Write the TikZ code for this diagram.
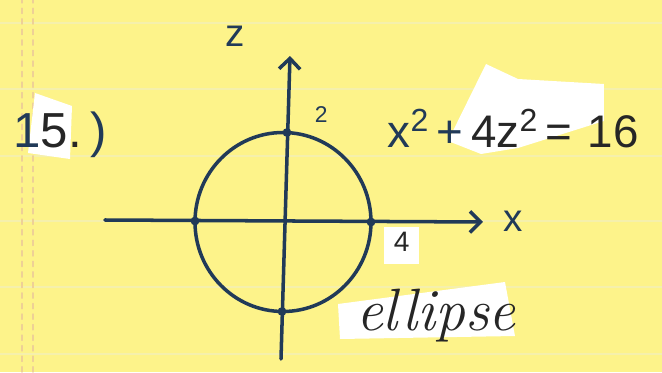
\documentclass[tikz,border=0pt]{standalone}
\usepackage{fontspec}
\newfontfamily\handfont{Liberation Sans}
\usepackage{tikz}
\usetikzlibrary{positioning, arrows.meta}
\definecolor{paper}{RGB}{253, 243, 138}
\definecolor{ruleline}{RGB}{245, 240, 172}
\definecolor{marginline}{RGB}{238, 208, 150}
\definecolor{ink}{RGB}{33, 58, 88}
\definecolor{pencil}{RGB}{38, 38, 38}

\begin{document}
\begin{tikzpicture}[line cap=round,
    axisline/.style={ink, line width=2pt, -{Straight Barb[length=6pt, width=12pt, line width=2pt]}},
    patch/.style={fill=white},
    hand/.style={inner sep=0pt, font=\handfont\fontsize{#1}{#1}\selectfont},
    dot/.style={ink}]
    % Paper
    \fill[paper] (-5.7,-3.02) rectangle (7.54,4.42);
    \useasboundingbox (-5.7,-3.02) rectangle (7.54,4.42);
    \foreach \y in {3.96, 2.64, 1.30, 0, -1.32, -2.66}
        \draw[ruleline, line width=1.2pt] (-5.7,\y) -- (7.54,\y);
    \foreach \x in {-5.26, -5.04}
        \draw[marginline, line width=0.8pt, dashed] (\x,-3.02) -- (\x,4.42);
    % White patches
    \fill[patch] (-5.0,2.56) -- (-4.26,2.3) -- (-4.3,1.24) -- (-5.14,1.36) -- cycle;
    \fill[patch] (4.02,3.14) -- (4.66,2.84) -- (6.38,2.74) -- (6.38,2.0) -- (4.66,1.46) -- (3.92,1.34) -- (3.26,1.6) -- cycle;
    \fill[patch] (1.98,-0.12) rectangle (2.68,-0.86);
    \fill[patch] (1.06,-1.66) -- (4.4,-1.22) -- (4.6,-2.3) -- (1.1,-2.36) -- cycle;
    % Axes
    \coordinate (xstart) at (-3.6,0.02);
    \coordinate (xend) at (3.96,-0.02);
    \coordinate (zstart) at (-0.08,-2.76);
    \coordinate (zend) at (0.1,3.3);
    \draw[axisline] (xstart) -- (xend);
    \draw[axisline] (zstart) -- (zend);
    % Ellipse
    \coordinate (O) at (-0.04,-0.02);
    \draw[ink, line width=2pt] (O) ellipse [x radius=1.76, y radius=1.79];
    \coordinate (top) at (0.04,1.77);
    \coordinate (right) at (1.72,-0.02);
    \coordinate (left) at (-1.8,0);
    \coordinate (bottom) at (-0.06,-1.81);
    \foreach \p in {top, right, left, bottom}
        \fill[dot] (\p) circle (2.5pt);
    % Labels
    \node[hand=22, ink] (zlab) at (-1.0,3.7) {z};
    \node[hand=22, ink] (xlab) at (4.56,0) {x};
    \node[hand=13, ink, above right=0.2 and 0.55 of top] (ztick) {2};
    \node[hand=16, pencil, below right=0.2 and 0.45 of right] (xtick) {4};
    \node[hand=28, ink] (num) at (-4.5,1.72) {1{\color{pencil}5.}\,)};
    \node[hand=26, ink, anchor=west] (eqn) at (2.05,1.85)
        {x\textsuperscript{2}\,+\,{\color{pencil}4z\textsuperscript{2}\,=\,\,16}};
    \node[pencil, inner sep=0pt, font=\itshape\fontsize{34}{34}\selectfont] (name) at (3.02,-1.9) {ellipse};
\end{tikzpicture}
\end{document}
